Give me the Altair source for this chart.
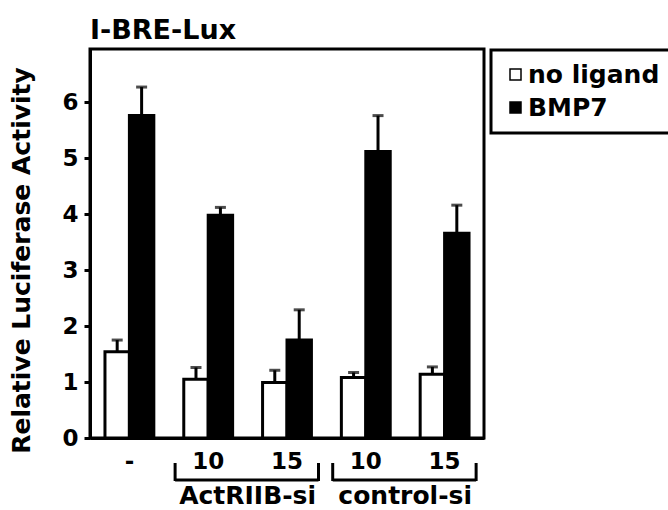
import altair as alt
import pandas as pd

# ---- data ----
groups = ["none", "ActRIIB-si 10", "ActRIIB-si 15", "control-si 10", "control-si 15"]
group_labels = ["-", "10", "15", "10", "15"]
treatments = ["no ligand", "BMP7"]
no_ligand_mean = [1.54, 1.05, 0.99, 1.08, 1.14]
no_ligand_err = [0.21, 0.21, 0.22, 0.09, 0.13]
bmp7_mean = [5.76, 3.98, 1.75, 5.12, 3.66]
bmp7_err = [0.51, 0.14, 0.54, 0.64, 0.50]
sirna_names = ["ActRIIB-si", "control-si"]
sirna_first = [1, 3]   # index of first group under bracket
sirna_last = [2, 4]    # index of last group under bracket
y_ticks = [0, 1, 2, 3, 4, 5, 6]

FONT = "DejaVu Sans"

rows = []
for i, g in enumerate(groups):
    rows.append(dict(group=g, treatment=treatments[0], mean=no_ligand_mean[i],
                     top=no_ligand_mean[i] + no_ligand_err[i]))
    rows.append(dict(group=g, treatment=treatments[1], mean=bmp7_mean[i],
                     top=bmp7_mean[i] + bmp7_err[i]))
df = pd.DataFrame(rows)

br = pd.DataFrame({
    "name": sirna_names,
    "start": [f + 0.08 for f in sirna_first],
    "end": [l + 0.9 for l in sirna_last],
    "center": [(f + l + 1) / 2 for f, l in zip(sirna_first, sirna_last)],
})

label_map = "{" + ",".join(f"'{g}':'{l}'" for g, l in zip(groups, group_labels)) + "}"

W, H = 394, 389

x = alt.X("group:N", sort=groups,
          scale=alt.Scale(paddingInner=0.38, paddingOuter=0.19),
          axis=alt.Axis(title=None, labelExpr=f"{label_map}[datum.value]",
                        ticks=False, labelAngle=0, labelPadding=12,
                        labelFontSize=23))
xo = alt.XOffset("treatment:N", sort=treatments,
                 scale=alt.Scale(paddingInner=0, paddingOuter=0))
y = alt.Y("mean:Q", scale=alt.Scale(domain=[0, 6.95], nice=False),
          axis=alt.Axis(title="Relative Luciferase Activity", values=y_ticks,
                        format="d", tickSize=6, labelPadding=6,
                        titlePadding=27, titleFontSize=25, titleY=211))

fill = alt.Fill("treatment:N", sort=treatments,
                scale=alt.Scale(domain=treatments, range=["white", "black"]),
                legend=alt.Legend(title=None, symbolType="square", symbolSize=121,
                                  symbolStrokeColor="black", symbolStrokeWidth=1.5,
                                  labelFontSize=25, labelFont=FONT,
                                  labelFontWeight="bold", labelColor="black",
                                  orient="none", legendX=401, legendY=1,
                                  strokeColor="black", padding=12,
                                  rowPadding=7, labelOffset=0))

base = alt.Chart(df)
bars = base.mark_bar(stroke="black", strokeWidth=3).encode(x=x, xOffset=xo, y=y, fill=fill)
stems = base.mark_rule(color="black", strokeWidth=3).encode(
    x=x, xOffset=xo, y="mean:Q", y2="top:Q")
caps = base.mark_tick(color="black", thickness=3, size=11).encode(
    x=x, xOffset=xo, y="top:Q")

main = alt.layer(bars, stems, caps)

qx = alt.Scale(domain=[0, 5], nice=False, zero=False)
bb = alt.Chart(br)
hline = bb.mark_rule(color="black", strokeWidth=3).encode(
    x=alt.X("start:Q", scale=qx, axis=None), x2="end:Q", y=alt.value(431))
lv = bb.mark_rule(color="black", strokeWidth=3).encode(
    x=alt.X("start:Q", scale=qx, axis=None), y=alt.value(414), y2=alt.value(432))
rv = bb.mark_rule(color="black", strokeWidth=3).encode(
    x=alt.X("end:Q", scale=qx, axis=None), y=alt.value(414), y2=alt.value(432))
txt = bb.mark_text(font=FONT, fontSize=25, fontWeight="bold", color="black",
                   baseline="alphabetic", align="center").encode(
    x=alt.X("center:Q", scale=qx, axis=None), y=alt.value(455), text="name:N")
annot = alt.layer(hline, lv, rv, txt)

chart = alt.layer(main, annot).resolve_scale(x="independent").properties(
    width=W, height=H,
    title=alt.TitleParams("I-BRE-Lux", anchor="start", frame="group", font=FONT,
                          fontSize=27, fontWeight="bold", color="black", offset=4),
    autosize=alt.AutoSizeParams(type="none"),
    padding={"left": 90, "top": 49, "right": 184, "bottom": 72},
).configure_view(stroke="black", strokeWidth=3
).configure_axis(domainColor="black", domainWidth=3, tickColor="black", tickWidth=3,
                 labelFont=FONT, labelFontWeight="bold", labelFontSize=23,
                 labelColor="black", titleFont=FONT, titleFontWeight="bold",
                 titleColor="black", grid=False
).configure_legend(strokeWidth=3)

chart.save("out.html", embed_options={"renderer": "svg", "actions": False})
